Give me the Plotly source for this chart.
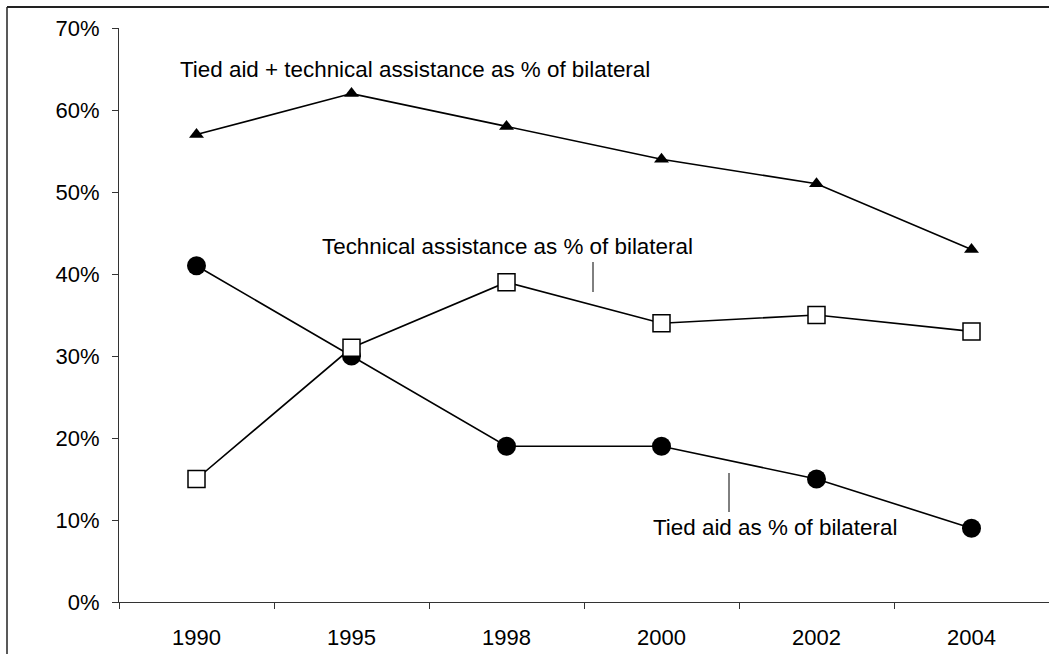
import plotly.graph_objects as go

years = ["1990", "1995", "1998", "2000", "2002", "2004"]
tied_plus_ta = [57, 62, 58, 54, 51, 43]
tech_assist = [15, 31, 39, 34, 35, 33]
tied_aid = [41, 30, 19, 19, 15, 9]
y_ticks = [0, 10, 20, 30, 40, 50, 60, 70]
y_labels = [f"{v}%" for v in y_ticks]

W, H = 1049, 654
L, R, T, B = 119, 0, 28, 52
pw, ph = W - L - R, H - T - B

def px_x(x):
    return (x - L) / pw

def px_y(y):
    return (H - B - y) / ph

fig = go.Figure()
fig.add_trace(go.Scatter(x=years, y=tied_plus_ta, mode="lines+markers",
                         line=dict(color="black", width=1.6),
                         marker=dict(symbol="triangle-up", size=13, color="black"),
                         cliponaxis=False, showlegend=False))
fig.add_trace(go.Scatter(x=years, y=tied_aid, mode="lines+markers",
                         line=dict(color="black", width=1.6),
                         marker=dict(symbol="circle", size=19, color="black"),
                         cliponaxis=False, showlegend=False))
fig.add_trace(go.Scatter(x=years, y=tech_assist, mode="lines+markers",
                         line=dict(color="black", width=1.6),
                         marker=dict(symbol="square", size=17, color="white",
                                     line=dict(color="black", width=1.5)),
                         cliponaxis=False, showlegend=False))

font = dict(family="Liberation Sans, Arial, sans-serif", size=22, color="black")
afont = dict(family="Liberation Sans, Arial, sans-serif", size=22.4, color="black")

fig.add_annotation(xref="paper", yref="paper", x=px_x(178), y=px_y(70),
                   text="Tied aid + technical assistance as % of bilateral",
                   showarrow=False, xanchor="left", yanchor="middle", font=afont)
fig.add_annotation(xref="paper", yref="paper", x=px_x(320), y=px_y(246),
                   text="Technical assistance as % of bilateral",
                   showarrow=False, xanchor="left", yanchor="middle", font=afont)
fig.add_annotation(xref="paper", yref="paper", x=px_x(651), y=px_y(527),
                   text="Tied aid as % of bilateral",
                   showarrow=False, xanchor="left", yanchor="middle", font=afont)

# leader lines
fig.add_shape(type="line", xref="paper", yref="paper",
              x0=px_x(593), x1=px_x(593), y0=px_y(262), y1=px_y(292),
              line=dict(color="black", width=1))
fig.add_shape(type="line", xref="paper", yref="paper",
              x0=px_x(729), x1=px_x(729), y0=px_y(473), y1=px_y(512),
              line=dict(color="black", width=1))
# outer frame (left and top edges)
fig.add_shape(type="line", xref="paper", yref="paper",
              x0=px_x(7), x1=px_x(7), y0=px_y(7), y1=px_y(660),
              line=dict(color="#222", width=1.5))
fig.add_shape(type="line", xref="paper", yref="paper",
              x0=px_x(7), x1=px_x(1060), y0=px_y(7), y1=px_y(7),
              line=dict(color="#222", width=2))

fig.update_layout(
    width=W, height=H,
    margin=dict(l=L, r=R, t=T, b=B),
    paper_bgcolor="white", plot_bgcolor="white",
    font=font,
    xaxis=dict(type="category", range=[-0.5, 5.5], tickson="boundaries",
               ticks="outside", ticklen=6, tickcolor="#333", tickwidth=1,
               showline=True, linecolor="#333", linewidth=1.2,
               showgrid=False, zeroline=False, fixedrange=True,
               tickfont=font, ticklabelstandoff=15),
    yaxis=dict(range=[0, 70], tickvals=y_ticks, ticktext=y_labels,
               ticks="outside", ticklen=6, tickcolor="#333", tickwidth=1,
               showline=True, linecolor="#333", linewidth=1.2,
               showgrid=False, zeroline=False, tickfont=font,
               ticklabelstandoff=8),
)

fig.write_html("out.html", config={"displayModeBar": False},
               post_script="document.body.style.margin='0';document.body.style.padding='0';")
